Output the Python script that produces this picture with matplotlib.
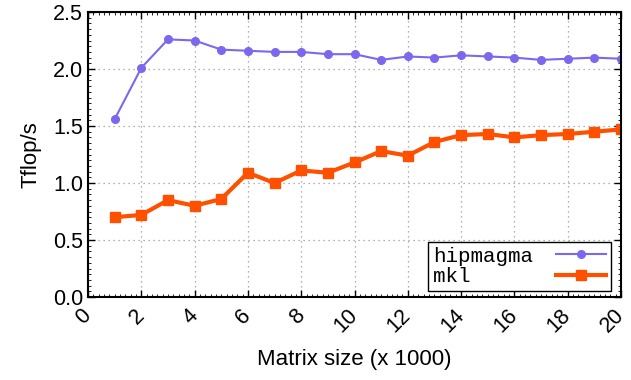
import matplotlib
matplotlib.use("Agg")
import matplotlib.pyplot as plt
from matplotlib.ticker import MultipleLocator
import numpy as np

# matrix size in thousands
sizes = list(range(1, 21))
hipmagma = [1.56, 2.01, 2.26, 2.25, 2.17, 2.16, 2.15, 2.15, 2.13, 2.13,
            2.08, 2.11, 2.10, 2.12, 2.11, 2.10, 2.08, 2.09, 2.10, 2.09]
mkl = [0.70, 0.72, 0.85, 0.80, 0.86, 1.09, 1.00, 1.11, 1.09, 1.18,
       1.28, 1.24, 1.36, 1.42, 1.43, 1.40, 1.42, 1.43, 1.45, 1.47]
xticks = list(range(0, 21, 2))
yticks = [0.0, 0.5, 1.0, 1.5, 2.0, 2.5]

plt.rcParams["font.family"] = ["Liberation Sans", "DejaVu Sans"]

fig = plt.figure(figsize=(6.31, 3.80), dpi=100)
ax = fig.add_axes([0.1395, 0.2184, 0.8447, 0.75])

# monospace legend -> pad names so text stays left aligned
w = max(len("hipmagma"), len("mkl"))
ax.plot(sizes, hipmagma, color="#7b68ee", lw=1.5, marker="o", ms=5.5,
        label="hipmagma".ljust(w))
ax.plot(sizes, mkl, color="#ff5000", lw=3, marker="s", ms=6.5,
        label="mkl".ljust(w))

ax.set_xlim(0, 20)
ax.set_ylim(0, 2.5)
ax.set_xticks(xticks)
ax.set_yticks(yticks)
ax.set_yticklabels(["%.1f" % v for v in yticks])
ax.xaxis.set_minor_locator(MultipleLocator(0.2))
ax.yaxis.set_minor_locator(MultipleLocator(0.05))
ax.tick_params(which="both", direction="in", top=True, right=True,
               labelsize=15.5, width=1)
ax.tick_params(which="major", length=5)
ax.tick_params(which="minor", length=2, width=0.6)
ax.tick_params(axis="x", pad=11)
plt.setp(ax.get_xticklabels(), rotation=45, ha="right", va="center",
         rotation_mode="anchor")

ax.grid(True, which="major", ls=(0, (1, 3)), color="#999999", lw=0.9)
for s in ax.spines.values():
    s.set_linewidth(1.5)

ax.set_xlabel("Matrix size (x 1000)", fontsize=16, labelpad=9)
ax.set_ylabel("Tflop/s", fontsize=16, labelpad=8)

leg = ax.legend(loc="lower right", bbox_to_anchor=(0.981, 0.021),
                borderaxespad=0, markerfirst=False, fancybox=False,
                prop={"family": "Liberation Mono", "size": 15},
                labelspacing=0.05, handlelength=2.4, handletextpad=1.1,
                borderpad=0.25, framealpha=1)
leg.get_frame().set_edgecolor("black")
leg.get_frame().set_linewidth(1)

fig.savefig("out.png", dpi=100)
